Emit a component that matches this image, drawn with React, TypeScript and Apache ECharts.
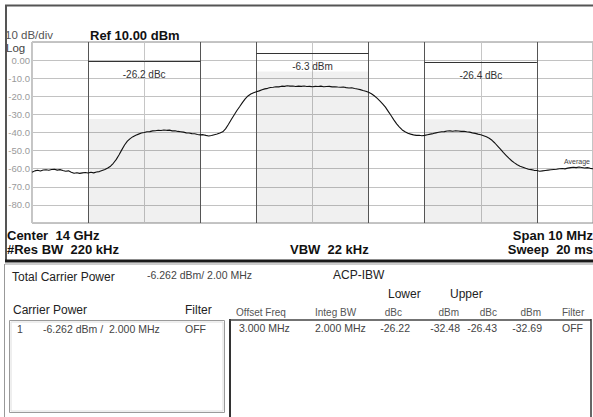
import React, { useEffect, useRef } from "react";
import * as echarts from "echarts";

// ---- spectrum trace (offset from 14 GHz centre, MHz) ----
const sweepStartMHz = -5;
const sweepStepMHz = 0.05;
const traceDbm = [
  -62.0, -61.2, -60.9, -61.3, -60.7, -60.6, -60.9, -60.4, -60.3, -60.8,
  -60.5, -61.0, -61.4, -61.2, -61.9, -62.5, -62.2, -62.6, -62.3, -62.1,
  -62.4, -62.0, -62.3, -61.8, -61.6, -61.0, -60.4, -59.6, -58.6, -57.0,
  -55.0, -52.4, -49.6, -46.9, -44.8, -43.4, -42.3, -41.5, -40.9, -40.3,
  -40.0, -39.6, -39.5, -39.1, -39.0, -38.8, -38.9, -38.6, -38.8, -38.7,
  -39.1, -39.0, -39.4, -39.6, -39.8, -40.2, -40.3, -40.6, -40.7, -41.1,
  -41.3, -41.2, -41.6, -41.9, -41.7, -41.2, -40.8, -40.3, -39.6, -38.0,
  -35.6, -33.0, -30.5, -28.0, -25.8, -23.5, -21.4, -19.8, -18.7, -18.0,
  -17.5, -17.0, -16.4, -15.9, -15.6, -15.1, -15.0, -14.7, -14.8, -14.4,
  -14.5, -14.2, -14.4, -14.3, -14.6, -14.4, -14.5, -14.3, -14.6, -14.5,
  -14.7, -14.5, -14.6, -14.4, -14.7, -14.6, -14.5, -14.8, -14.7, -14.9,
  -15.0, -14.9, -15.2, -15.4, -15.3, -15.7, -16.0, -16.3, -16.8, -17.2,
  -17.8, -18.6, -19.7, -21.0, -22.5, -24.2, -26.0, -28.3, -30.6, -33.0,
  -35.2, -37.0, -38.6, -39.6, -40.4, -40.9, -41.3, -41.6, -41.5, -41.8,
  -41.6, -41.2, -40.9, -40.6, -40.2, -39.9, -39.6, -39.5, -39.2, -39.1,
  -39.3, -39.0, -39.2, -39.4, -39.3, -39.6, -39.8, -40.2, -40.5, -40.9,
  -41.2, -41.8, -42.4, -43.2, -44.3, -45.8, -47.5, -49.2, -51.0, -52.6,
  -54.2, -55.6, -56.8, -57.8, -58.6, -59.2, -59.8, -60.3, -60.5, -60.9,
  -61.0, -61.4, -61.2, -61.0, -60.8, -60.6, -60.4, -60.3, -60.0, -59.9,
  -60.1, -59.7, -59.4, -59.2, -59.4, -59.1, -59.3, -59.6, -59.4, -59.8,
  -60.0,
];

// ---- axes ----
const yTickValues = [0, -10, -20, -30, -40, -50, -60, -70, -80];
const yTickLabels = ["0.00", "-10.0", "-20.0", "-30.0", "-40.0", "-50.0", "-60.0", "-70.0", "-80.0"];
const channelEdgesMHz = [-4, -2, -1, 1, 2, 4];

// ---- integration bands ----
const bandFromMHz = [-4, -1, 2];
const bandToMHz = [-2, 1, 4];
const bandPowerDbm = [-32.48, -6.262, -32.69];
const bandLabels = ["-26.2 dBc", "-6.3 dBm", "-26.4 dBc"];
const bracketLevelDbm = [-0.55, 3.9, -1.1];

// ---- result table ----
const carrierRow = ["1", "-6.262 dBm /  2.000 MHz", "OFF"];
const acpHeaders = ["Offset Freq", "Integ BW", "dBc", "dBm", "dBc", "dBm", "Filter"];
const acpRow = ["3.000 MHz", "2.000 MHz", "-26.22", "-32.48", "-26.43", "-32.69", "OFF"];

const FONT = '"Liberation Sans", Arial, sans-serif';

function txt(text: string, x: number, y: number, size: number, opts: any = {}) {
  return {
    type: "text",
    x,
    y,
    silent: true,
    z: 10,
    style: {
      text,
      font: `${opts.bold ? "bold " : ""}${size}px ${FONT}`,
      fill: opts.color || "#222",
      textAlign: opts.align || "left",
      textVerticalAlign: "middle",
    },
  };
}

function ln(x1: number, y1: number, x2: number, y2: number, stroke: string, w: number) {
  return { type: "line", silent: true, z: 9, shape: { x1, y1, x2, y2 }, style: { stroke, lineWidth: w } };
}

function box(x: number, y: number, w: number, h: number, stroke: string, lw: number) {
  return {
    type: "rect",
    silent: true,
    z: 9,
    shape: { x, y, width: w, height: h },
    style: { fill: "none", stroke, lineWidth: lw },
  };
}

export default function App() {
  const ref = useRef<HTMLDivElement>(null);

  useEffect(() => {
    document.body.style.margin = "0";
    if (!ref.current) return;
    const chart = echarts.init(ref.current, undefined, { renderer: "svg" });

    const traceData = traceDbm.map((v, i) => [
      +(sweepStartMHz + i * sweepStepMHz).toFixed(2),
      v,
    ]);

    const acpX = [236, 315, 402, 459, 497, 541, 562];
    const acpAlign = ["left", "left", "right", "right", "right", "right", "left"];
    const acpRowX = [239, 315, 410, 460, 497, 542, 562];

    const graphic: any[] = [
      // upper panel frame
      ln(5, 5.5, 593, 5.5, "#555", 2),
      ln(6, 5, 6, 262, "#555", 2),
      ln(5, 261, 593, 261, "#1a1a1a", 3),
      ln(5, 264, 593, 264, "#9a9a9a", 1),
      // lower panel left border
      ln(4.5, 264, 4.5, 417, "#999", 1),
      // header texts
      txt("10 dB/div", 5, 35, 11.5, { color: "#555" }),
      txt("Ref 10.00 dBm", 90, 35, 13, { bold: true, color: "#111" }),
      txt("Log", 6, 48, 11.5, { color: "#444" }),
      txt("Average", 564, 161, 7, { color: "#444" }),
      // footer texts
      txt("Center  14 GHz", 7, 235, 13, { bold: true, color: "#111" }),
      txt("#Res BW  220 kHz", 7, 249, 13, { bold: true, color: "#111" }),
      txt("VBW  22 kHz", 290, 249, 13, { bold: true, color: "#111" }),
      txt("Span 10 MHz", 593, 235, 13, { bold: true, color: "#111", align: "right" }),
      txt("Sweep  20 ms", 593, 249, 13, { bold: true, color: "#111", align: "right" }),
      // table
      txt("Total Carrier Power", 12, 277, 12),
      txt("-6.262 dBm/ 2.00 MHz", 147, 275, 10.5, { color: "#444" }),
      txt("ACP-IBW", 333, 275, 12),
      txt("Lower", 388, 294, 12),
      txt("Upper", 450, 294, 12),
      txt("Carrier Power", 13, 310, 12),
      txt("Filter", 185, 310, 12),
      txt(carrierRow[0], 17, 329, 10.5, { color: "#444" }),
      txt(carrierRow[1], 43, 329, 10.5, { color: "#444" }),
      txt(carrierRow[2], 185, 329, 10.5, { color: "#444" }),
      box(9.5, 320.5, 215, 92, "#9a9a9a", 1),
      box(11, 322, 212, 89, "#dedede", 1),
      ln(230, 319, 230, 417, "#333", 2),
      ln(229, 320, 591, 320, "#444", 1.5),
      ln(591, 319, 591, 417, "#333", 1.5),
    ];
    acpHeaders.forEach((h, i) =>
      graphic.push(txt(h, acpX[i], 312, 10, { color: "#555", align: acpAlign[i] }))
    );
    acpRow.forEach((h, i) =>
      graphic.push(txt(h, acpRowX[i], 328, 10.5, { color: "#444", align: acpAlign[i] }))
    );

    const option: any = {
      animation: false,
      backgroundColor: "#fff",
      textStyle: { fontFamily: FONT },
      grid: {
        left: 32,
        top: 42,
        width: 561,
        height: 181,
        show: true,
        borderColor: "#8a8a8a",
        borderWidth: 1,
        backgroundColor: "transparent",
      },
      xAxis: {
        type: "value",
        min: -5,
        max: 5,
        interval: 1,
        axisLabel: { show: false },
        axisTick: { show: false },
        axisLine: { show: false },
        splitLine: { show: true, lineStyle: { color: "#c6c6c6", width: 1 } },
      },
      yAxis: {
        type: "value",
        min: -90,
        max: 10,
        interval: 10,
        axisTick: { show: false },
        axisLine: { show: false },
        splitLine: { show: true, lineStyle: { color: "#c2c2c2", width: 1 } },
        axisLabel: {
          margin: 2,
          fontSize: 9.5,
          color: "#9a9a9a",
          fontFamily: FONT,
          showMinLabel: false,
          showMaxLabel: false,
          formatter: (v: number) => {
            const i = yTickValues.indexOf(v);
            return i >= 0 ? yTickLabels[i] : "";
          },
        },
      },
      graphic,
      series: [
        {
          type: "line",
          data: traceData,
          showSymbol: false,
          symbol: "none",
          lineStyle: { color: "#111", width: 1.1 },
          z: 5,
          markArea: {
            silent: true,
            itemStyle: { color: "rgba(0,0,0,0.06)" },
            data: bandFromMHz.map((f, i) => [
              { coord: [f, bandPowerDbm[i]] },
              { coord: [bandToMHz[i], -90] },
            ]),
          },
        },
        {
          type: "line",
          data: [],
          z: 4,
          markLine: {
            silent: true,
            symbol: ["none", "none"],
            label: { show: false },
            lineStyle: { color: "#555", width: 1, type: "solid" },
            data: channelEdgesMHz.map((f) => ({ xAxis: f })),
          },
        },
        {
          type: "line",
          data: [],
          z: 6,
          markLine: {
            silent: true,
            symbol: ["none", "none"],
            lineStyle: { color: "#333", width: 1, type: "solid" },
            label: {
              show: true,
              position: "insideMiddleBottom",
              distance: 8,
              fontSize: 10,
              color: "#333",
              fontFamily: FONT,
            },
            data: bandFromMHz.map((f, i) => [
              { coord: [f, bracketLevelDbm[i]], label: { formatter: bandLabels[i] } },
              { coord: [bandToMHz[i], bracketLevelDbm[i]] },
            ]),
          },
        },
      ],
    };

    chart.setOption(option);
    return () => chart.dispose();
  }, []);

  return (
    <div
      ref={ref}
      style={{ position: "absolute", left: 0, top: 0, width: 593, height: 417 }}
    />
  );
}
